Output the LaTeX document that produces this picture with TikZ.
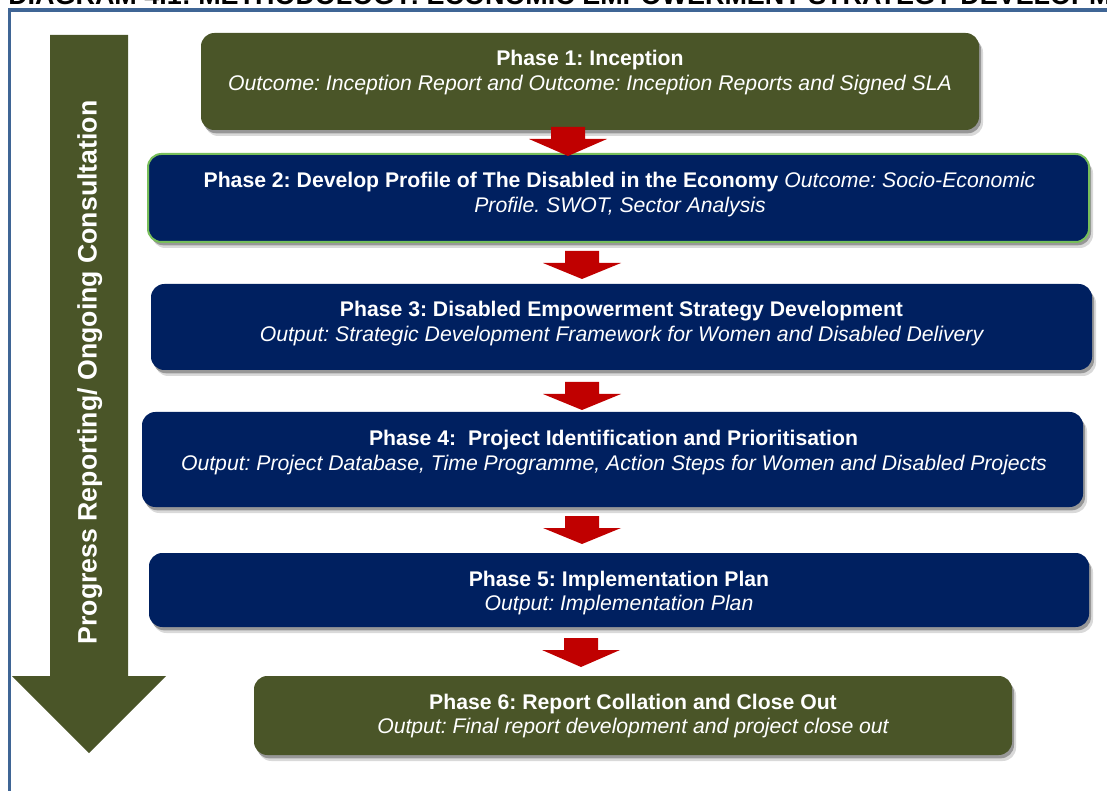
\documentclass[tikz,border=0pt]{standalone}
\usepackage{fontspec}
\setmainfont{Liberation Sans}
\usetikzlibrary{shadows}
\frenchspacing
\definecolor{olivebox}{RGB}{74,85,40}
\definecolor{navybox}{RGB}{0,32,96}
\definecolor{greenedge}{RGB}{120,190,90}
\definecolor{framecol}{RGB}{63,101,149}
\definecolor{redarrow}{RGB}{192,0,0}
\tikzset{
  boxshadow/.style={
    drop shadow={shadow xshift=1.5pt,shadow yshift=-2.5pt,opacity=.30,fill=black},
    drop shadow={shadow xshift=3pt,shadow yshift=-4.5pt,opacity=.15,fill=black}},
  phasebox/.style={rectangle, rounded corners=10pt, inner sep=0pt, boxshadow},
  olivephase/.style={phasebox, fill=olivebox},
  navyphase/.style={phasebox, fill=navybox},
  linetxt/.style={anchor=base, text=white, inner sep=0pt, font=\fontsize{15.9}{19}\selectfont},
  redblock/.style={fill=redarrow, draw=none},
}
\newcommand{\mkbox}[6]{% name, style, left, top, right, bottom
  \node[#2, minimum width={(#5-#3)*0.75pt}, minimum height={(#6-#4)*0.75pt}] (#1) at ({(#3+#5)/2},{(#4+#6)/2}) {};}
\newcommand{\blockarr}[3]{% cx, top, tip
  \fill[redblock] (#1-17,#2) -- (#1+17,#2) -- (#1+17,#2+12) -- (#1+39,#2+12) -- (#1,#3) -- (#1-39,#2+12) -- (#1-17,#2+12) -- cycle;}
\begin{document}
\begin{tikzpicture}[x=0.75pt,y=-0.75pt]
\useasboundingbox (0,0) rectangle (1107,791);
% cut-off title
\node[anchor=base west, inner sep=0pt, font=\bfseries\fontsize{20.2}{24}\selectfont] (title) at (8,4.5) {DIAGRAM 4.1: METHODOLOGY: ECONOMIC EMPOWERMENT STRATEGY DEVELOPMENT};
% frame
\draw[framecol, line width=2.4pt] (9.5,830) -- (9.5,10) -- (1140,10);
% big arrow
\fill[olivebox] (50,35) -- (128,35) -- (128,676) -- (166,676) -- (89,753) -- (12,676) -- (50,676) -- cycle;
\node[rotate=90, anchor=base, inner sep=0pt, text=white, font=\bfseries\fontsize{20}{24}\selectfont] (side) at (96.5,372.5) {Progress Reporting/ Ongoing Consultation};
% boxes
\mkbox{p1}{olivephase}{201}{33}{979}{130}
\mkbox{p2}{navyphase, draw=greenedge, line width=1.5pt}{148}{154}{1089}{242}
\mkbox{p3}{navyphase}{151}{284}{1092}{370}
\mkbox{p4}{navyphase}{142}{412}{1083}{507}
\mkbox{p5}{navyphase}{149}{553}{1089}{627}
\mkbox{p6}{olivephase}{254}{676}{1012}{755}
% arrows
\blockarr{568}{127}{156}
\blockarr{582}{251}{279}
\blockarr{582}{382}{410}
\blockarr{582}{516}{544}
\blockarr{581}{638}{667}
% texts
\node[linetxt] (t1a) at (590,66) {\bfseries Phase 1: Inception};
\node[linetxt] (t1b) at (590,90.5) {\itshape Outcome: Inception Report and Outcome: Inception Reports and Signed SLA};
\node[linetxt] (t2a) at (619.5,188) {\textbf{Phase 2: Develop Profile of The Disabled in the Economy} \textit{Outcome: Socio-Economic}};
\node[linetxt] (t2b) at (620,212.5) {\itshape Profile. SWOT, Sector Analysis};
\node[linetxt] (t3a) at (621.5,317) {\bfseries Phase 3: Disabled Empowerment Strategy Development};
\node[linetxt] (t3b) at (621.5,341.5) {\itshape Output: Strategic Development Framework for Women and Disabled Delivery};
\node[linetxt] (t4a) at (613.5,446) {\bfseries Phase 4:\ \ Project Identification and Prioritisation};
\node[linetxt] (t4b) at (614,470.5) {\itshape Output: Project Database, Time Programme, Action Steps for Women and Disabled Projects};
\node[linetxt] (t5a) at (619,586) {\bfseries Phase 5: Implementation Plan};
\node[linetxt] (t5b) at (619,610.5) {\itshape Output: Implementation Plan};
\node[linetxt] (t6a) at (633,709) {\bfseries Phase 6: Report Collation and Close Out};
\node[linetxt] (t6b) at (633,733.5) {\itshape Output: Final report development and project close out};
\end{tikzpicture}
\end{document}
